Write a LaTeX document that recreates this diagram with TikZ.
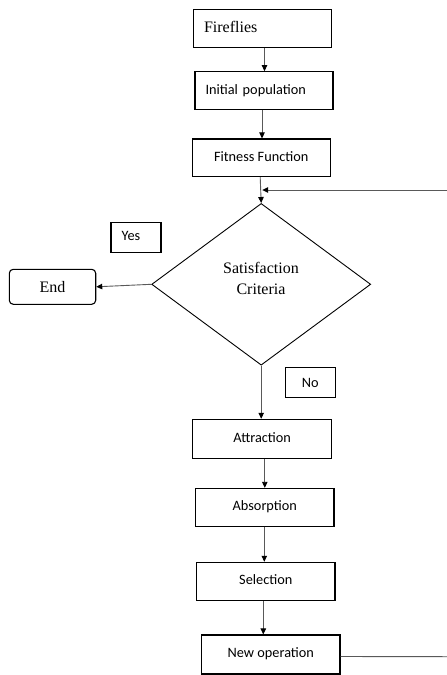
\documentclass[tikz,border=0pt]{standalone}
\usepackage{fontspec}
\setmainfont{Liberation Serif}
\newfontfamily\calibfont{Carlito}
\usetikzlibrary{arrows.meta,shapes.geometric}
\begin{document}
\begin{tikzpicture}[x=1pt,y=-1pt,
  box/.style={draw=black,line width=1.1pt,rectangle,inner sep=0pt,
    font=\calibfont\fontsize{14.3}{16}\selectfont},
  serifbox/.style={box,font=\fontsize{16}{19}\selectfont},
  lbl/.style={draw=black,line width=1.1pt,rectangle,inner sep=0pt,
    minimum width=50pt,minimum height=30pt,font=\calibfont\fontsize{14.3}{16}\selectfont},
  conn/.style={draw=black!65,line width=0.9pt,
    -{Triangle[length=6pt,width=5.5pt,color=black,fill=black]}},
  plain/.style={draw=black!65,line width=0.9pt}]
\useasboundingbox (0,0) rectangle (447,675);
% boxes
\node[serifbox,minimum width=138.4pt,minimum height=38.4pt,text width=117pt,align=left]
  (fire) at (262.5,28.5) {\raisebox{3pt}{Fireflies}};
\node[box,minimum width=138pt,minimum height=37.6pt,text width=117pt,align=left]
  (init) at (264,90.5) {\raisebox{2pt}{Initial population}};
\node[box,minimum width=138.3pt,minimum height=37.7pt]
  (fit) at (261.2,157.8) {\raisebox{2pt}{Fitness Function}};
\node[draw=black,line width=0.9pt,diamond,aspect=1.354,minimum width=219pt,
  minimum height=161.7pt,inner sep=0pt] (crit) at (261.2,284.3) {};
\node[font=\fontsize{16}{21.6}\selectfont,align=center,inner sep=0pt]
  (crittext) at (261,278.5) {Satisfaction\\Criteria};
\node[draw=black,line width=1.1pt,rounded corners=4pt,rectangle,inner sep=0pt,
  minimum width=86.4pt,minimum height=35pt,font=\fontsize{16}{19}\selectfont]
  (end) at (52.5,286.8) {End};
\node[lbl] (yes) at (136,237.3) {\hspace*{-10pt}\raisebox{2pt}{Yes}};
\node[lbl] (no) at (310.2,382.5) {\raisebox{-2pt}{No}};
\node[box,minimum width=139pt,minimum height=39pt]
  (attr) at (262.2,438.8) {\raisebox{3pt}{Attraction}};
\node[box,minimum width=138.3pt,minimum height=37.7pt]
  (abs) at (264.8,507.2) {\raisebox{3pt}{Absorption}};
\node[box,minimum width=138.3pt,minimum height=38.4pt]
  (sel) at (265.8,581.5) {\raisebox{3pt}{Selection}};
\node[box,minimum width=138.3pt,minimum height=39pt]
  (newop) at (270.8,654.5) {\raisebox{3pt}{New operation}};
% connectors
\coordinate (loopR) at (447,190);
\coordinate (newR) at (447,656.7);
\draw[conn] ([xshift=2pt]fire.south) -- ([xshift=2pt]fire.south |- init.north);
\draw[conn] ([xshift=-2pt]init.south) -- ([xshift=-2pt]init.south |- fit.north);
\draw[conn] ([xshift=-1pt]fit.south) -- (crit.north);
\draw[conn] (loopR) -- ([xshift=1pt]loopR -| crit.north);
\draw[conn] (crit.west) -- (end.east);
\draw[conn] (crit.south) -- (crit.south |- attr.north);
\draw[conn] (abs.north |- attr.south) -- (abs.north);
\draw[conn] ([xshift=-0.5pt]abs.south) -- ([xshift=-0.5pt]abs.south |- sel.north);
\draw[conn] ([xshift=-2.5pt]sel.south) -- ([xshift=-2.5pt]sel.south |- newop.north);
\draw[plain] ([yshift=-2pt]newop.east) -- (newR);
\end{tikzpicture}
\end{document}
